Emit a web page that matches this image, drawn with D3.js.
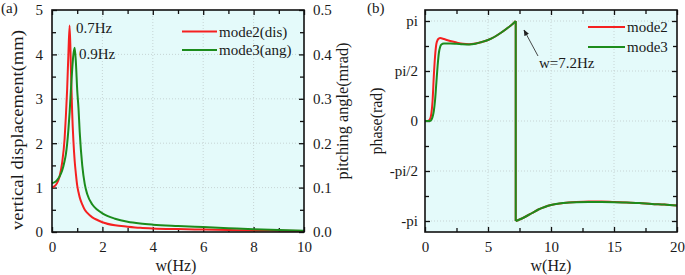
<!DOCTYPE html>
<html><head><meta charset="utf-8">
<script src="https://cdn.jsdelivr.net/npm/d3@7/dist/d3.min.js"></script>
<style>body{margin:0;background:#fff}text{font-family:"Liberation Serif","DejaVu Serif",serif;fill:#1a1a1a}</style>
</head><body>
<svg id="c" width="685" height="275"></svg>
<script>
// ---- Panel (a) data ----
const wA = [0,0.1,0.2,0.3,0.4,0.5,0.55,0.6,0.65,0.7,0.75,0.8,0.85,0.9,0.95,1.0,1.05,1.1,1.2,1.3,1.4,1.6,1.8,2.0,2.5,3,3.5,4,5,6,7,8,9,10];
const mode2Dis = [1.0,1.03,1.1,1.25,1.55,2.1,2.6,3.2,4.0,4.65,3.7,2.7,2.05,1.6,1.3,1.05,0.9,0.78,0.62,0.5,0.43,0.33,0.27,0.22,0.15,0.12,0.095,0.08,0.065,0.055,0.045,0.035,0.03,0.025];
const mode3Ang = [0.110,0.112,0.117,0.125,0.138,0.160,0.175,0.198,0.230,0.270,0.320,0.365,0.400,0.415,0.380,0.320,0.280,0.225,0.150,0.108,0.085,0.062,0.050,0.042,0.030,0.023,0.019,0.0165,0.0135,0.011,0.0085,0.006,0.0045,0.003];
const xTicksA = [0,2,4,6,8,10];
const yTicksA = [0,1,2,3,4,5];
const yTicksAR = [0,0.1,0.2,0.3,0.4,0.5];
// ---- Panel (b) data (phase in units of pi) ----
const wB = [0,0.2,0.4,0.5,0.6,0.7,0.8,0.9,1.0,1.1,1.2,1.3,1.5,2,2.5,3,3.5,4,4.5,5,5.5,6,6.5,7,7.2,7.2,7.5,8,8.5,9,9.5,10,11,12,13,14,15,16,17,18,19,20];
const phase2 = [0,0,0.02,0.07,0.2,0.45,0.65,0.77,0.81,0.825,0.83,0.828,0.82,0.8,0.785,0.772,0.768,0.775,0.79,0.81,0.84,0.88,0.925,0.975,1.0,-1.0,-0.985,-0.955,-0.92,-0.885,-0.86,-0.84,-0.82,-0.81,-0.805,-0.805,-0.81,-0.815,-0.82,-0.83,-0.835,-0.845];
const phase3 = [0,0,0,0.01,0.04,0.1,0.21,0.38,0.55,0.68,0.74,0.765,0.775,0.775,0.772,0.768,0.766,0.773,0.79,0.81,0.84,0.88,0.925,0.975,1.0,-1.0,-0.985,-0.955,-0.92,-0.885,-0.86,-0.84,-0.82,-0.812,-0.81,-0.81,-0.812,-0.816,-0.82,-0.83,-0.835,-0.845];
const xTicksB = [0,5,10,15,20];
const yTicksB = [-1,-0.5,0,0.5,1];
const yTickLabelsB = ["-pi","-pi/2","0","pi/2","pi"];
const RED = "#f52020", GREEN = "#1c8c1c";

const svg = d3.select("#c");
const T = 10, B = 232;

function panel(x0, x1, xd, yd, xMaj, xMin, yMaj, yMin) {
  const x = d3.scaleLinear().domain(xd).range([x0, x1]);
  const y = d3.scaleLinear().domain(yd).range([B, T]);
  const g = svg.append("g");
  g.append("rect").attr("x", x0).attr("y", T).attr("width", x1 - x0).attr("height", B - T).attr("fill", "#e4fafa");
  // grid
  g.selectAll(".gx").data(xMaj.filter(v => v > xd[0] && v < xd[1])).enter().append("line")
    .attr("x1", d => x(d)).attr("x2", d => x(d)).attr("y1", T).attr("y2", B)
    .attr("stroke", "#bfcaca").attr("stroke-width", 0.8).attr("stroke-dasharray", "1,2");
  g.selectAll(".gy").data(yMaj.filter(v => v > yd[0] && v < yd[1])).enter().append("line")
    .attr("y1", d => y(d)).attr("y2", d => y(d)).attr("x1", x0).attr("x2", x1)
    .attr("stroke", "#bfcaca").attr("stroke-width", 0.8).attr("stroke-dasharray", "1,2");
  return {x, y, g};
}

function ticks(g, axisFn, scale, vals, size, tx, ty, fmt, pad) {
  const a = axisFn(scale).tickValues(vals).tickSize(-size).tickPadding(pad || 9);
  if (fmt) a.tickFormat(fmt); else a.tickFormat("");
  const s = g.append("g").attr("transform", `translate(${tx},${ty})`).call(a);
  s.select(".domain").remove();
  s.selectAll("line").attr("stroke", "#111").attr("stroke-width", 1.3);
  s.selectAll("text").attr("font-size", 15).attr("font-family", '"Liberation Serif",serif').attr("fill", "#1a1a1a");
  return s;
}

// ---------- Panel A ----------
const A = panel(52, 304, [0,10], [0,5], xTicksA, [], yTicksA, []);
const yAR = d3.scaleLinear().domain([0,0.5]).range([B, T]);
const xMinA = d3.range(1, 10, 2), yMinA = d3.range(0.5, 5, 1), yMinAR = d3.range(0.05, 0.5, 0.1);
ticks(A.g, d3.axisBottom, A.x, xTicksA, 5, 0, B, d3.format("d"), 9);
ticks(A.g, d3.axisBottom, A.x, xMinA, 4, 0, B);
ticks(A.g, d3.axisTop, A.x, xTicksA, 5, 0, T);
ticks(A.g, d3.axisTop, A.x, xMinA, 4, 0, T);
ticks(A.g, d3.axisLeft, A.y, yTicksA, 5, 52, 0, d3.format("d"), 9);
ticks(A.g, d3.axisLeft, A.y, yMinA, 4, 52, 0);
ticks(A.g, d3.axisRight, yAR, yTicksAR, 5, 304, 0, d3.format(".1f"), 9);
ticks(A.g, d3.axisRight, yAR, yMinAR, 4, 304, 0);

const lineA2 = d3.line().x((d,i) => A.x(wA[i])).y(d => A.y(d)).curve(d3.curveMonotoneX);
const lineA3 = d3.line().x((d,i) => A.x(wA[i])).y(d => yAR(d)).curve(d3.curveMonotoneX);
A.g.append("path").attr("d", lineA2(mode2Dis)).attr("fill", "none").attr("stroke", RED).attr("stroke-width", 2);
A.g.append("path").attr("d", lineA3(mode3Ang)).attr("fill", "none").attr("stroke", GREEN).attr("stroke-width", 2);
A.g.append("rect").attr("x", 52).attr("y", T).attr("width", 252).attr("height", B - T).attr("fill", "none").attr("stroke", "#111").attr("stroke-width", 1.6);

// annotations
svg.append("text").attr("x", 76).attr("y", 33).attr("font-size", 15).text("0.7Hz");
svg.append("text").attr("x", 79).attr("y", 59).attr("font-size", 15).text("0.9Hz");
// legend A
svg.append("line").attr("x1", 182).attr("x2", 217).attr("y1", 31.5).attr("y2", 31.5).attr("stroke", RED).attr("stroke-width", 2);
svg.append("text").attr("x", 219).attr("y", 36.5).attr("font-size", 15).text("mode2(dis)");
svg.append("line").attr("x1", 182).attr("x2", 217).attr("y1", 50).attr("y2", 50).attr("stroke", GREEN).attr("stroke-width", 2);
svg.append("text").attr("x", 219).attr("y", 55).attr("font-size", 15).text("mode3(ang)");
// titles A
svg.append("text").attr("x", 176).attr("y", 271).attr("text-anchor", "middle").attr("font-size", 16).text("w(Hz)");
svg.append("text").attr("transform", "translate(23,130) rotate(-90)").attr("text-anchor", "middle").attr("font-size", 16)
  .attr("textLength", 200).attr("lengthAdjust", "spacingAndGlyphs").text("vertical displacement(mm)");
svg.append("text").attr("transform", "translate(348,111) rotate(-90)").attr("text-anchor", "middle").attr("font-size", 16)
  .attr("textLength", 137).attr("lengthAdjust", "spacingAndGlyphs").text("pitching angle(mrad)");
svg.append("text").attr("x", 1).attr("y", 13).attr("font-size", 15).text("(a)");

// ---------- Panel B ----------
const Bp = panel(425, 677, [0,20], [-1.11,1.11], xTicksB, [], yTicksB, []);
const xMinB = d3.range(2.5, 20, 5), yMinB = [-0.75,-0.25,0.25,0.75];
ticks(Bp.g, d3.axisBottom, Bp.x, xTicksB, 5, 0, B, d3.format("d"), 9);
ticks(Bp.g, d3.axisBottom, Bp.x, xMinB, 4, 0, B);
ticks(Bp.g, d3.axisTop, Bp.x, xTicksB, 5, 0, T);
ticks(Bp.g, d3.axisTop, Bp.x, xMinB, 4, 0, T);
ticks(Bp.g, d3.axisLeft, Bp.y, yTicksB, 5, 425, 0, (d,i) => yTickLabelsB[i], 7);
ticks(Bp.g, d3.axisLeft, Bp.y, yMinB, 4, 425, 0);
ticks(Bp.g, d3.axisRight, Bp.y, yTicksB, 5, 677, 0);
ticks(Bp.g, d3.axisRight, Bp.y, yMinB, 4, 677, 0);

const jump = wB.indexOf(7.2);
const lineB = d3.line().x(d => Bp.x(d[0])).y(d => Bp.y(d[1])).curve(d3.curveMonotoneX);
const lineBL = d3.line().x(d => Bp.x(d[0])).y(d => Bp.y(d[1]));
function drawPhase(vals, color) {
  const pts = wB.map((w, i) => [w, vals[i]]);
  const pre = pts.slice(0, jump + 1), post = pts.slice(jump + 1);
  const grp = Bp.g.append("g").attr("fill", "none").attr("stroke", color).attr("stroke-width", 2);
  grp.append("path").attr("d", lineB(pre));
  grp.append("path").attr("d", lineBL([pts[jump], pts[jump + 1]]));
  grp.append("path").attr("d", lineB(post));
}
drawPhase(phase2, RED);
drawPhase(phase3, GREEN);
Bp.g.append("rect").attr("x", 425).attr("y", T).attr("width", 252).attr("height", B - T).attr("fill", "none").attr("stroke", "#111").attr("stroke-width", 1.6);

// arrow annotation
const defs = svg.append("defs");
defs.append("marker").attr("id", "ah").attr("viewBox", "0 0 10 10").attr("refX", 9).attr("refY", 5)
  .attr("markerWidth", 7).attr("markerHeight", 7).attr("orient", "auto")
  .append("path").attr("d", "M0,1L10,5L0,9Z").attr("fill", "#222");
svg.append("line").attr("x1", 538).attr("y1", 56).attr("x2", 524).attr("y2", 30)
  .attr("stroke", "#333").attr("stroke-width", 0.9).attr("marker-end", "url(#ah)");
svg.append("text").attr("x", 539).attr("y", 68).attr("font-size", 15).text("w=7.2Hz");
// legend B
svg.append("line").attr("x1", 588).attr("x2", 625).attr("y1", 27).attr("y2", 27).attr("stroke", RED).attr("stroke-width", 2);
svg.append("text").attr("x", 627).attr("y", 32).attr("font-size", 15).text("mode2");
svg.append("line").attr("x1", 588).attr("x2", 625).attr("y1", 47).attr("y2", 47).attr("stroke", GREEN).attr("stroke-width", 2);
svg.append("text").attr("x", 627).attr("y", 52).attr("font-size", 15).text("mode3");
// titles B
svg.append("text").attr("x", 551).attr("y", 271).attr("text-anchor", "middle").attr("font-size", 16).text("w(Hz)");
svg.append("text").attr("transform", "translate(382,121) rotate(-90)").attr("text-anchor", "middle").attr("font-size", 16)
  .attr("textLength", 67).attr("lengthAdjust", "spacingAndGlyphs").text("phase(rad)");
svg.append("text").attr("x", 367).attr("y", 13).attr("font-size", 15).text("(b)");
</script>
</body></html>
